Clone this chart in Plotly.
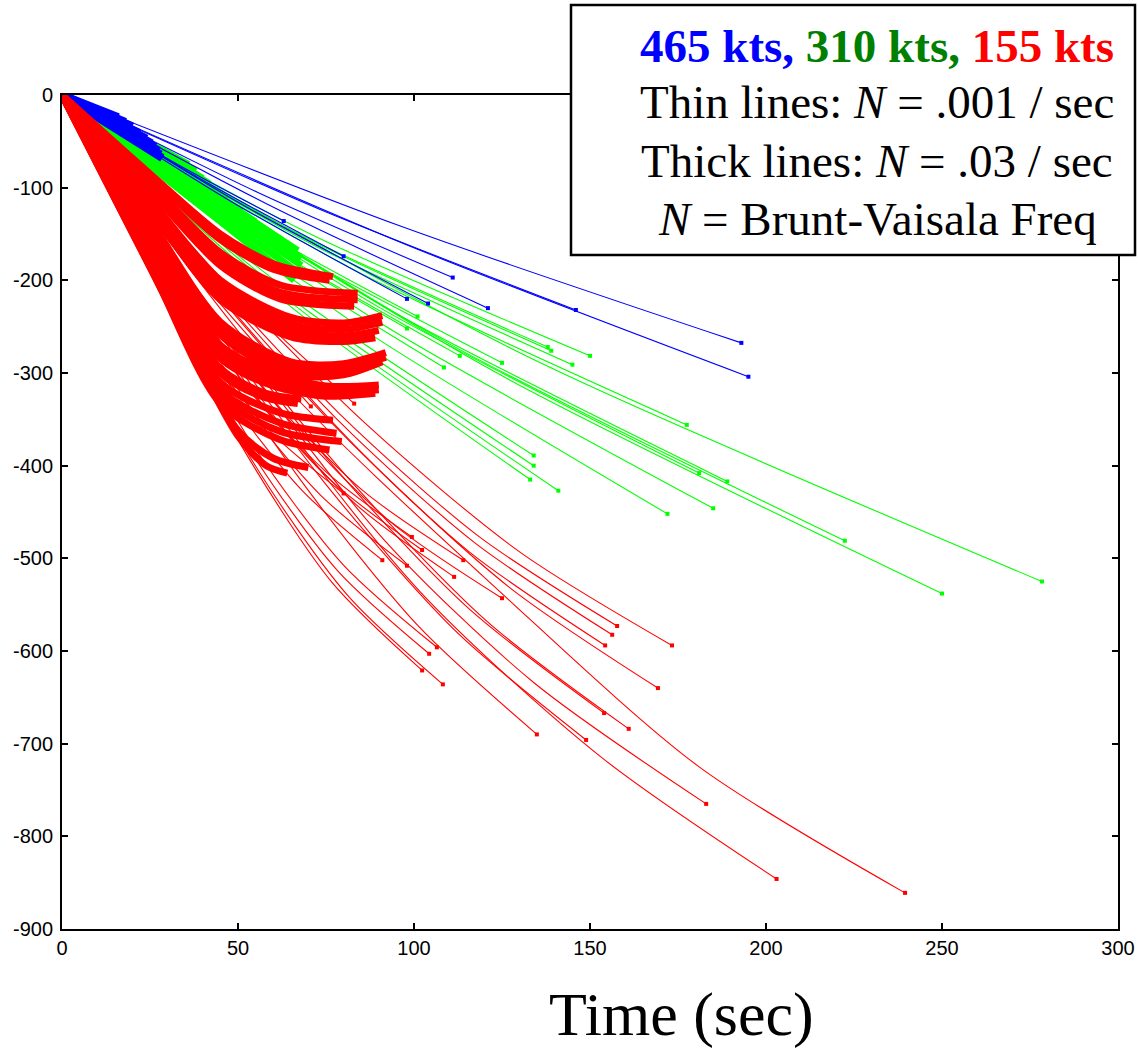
import plotly.graph_objects as go

# ---------------- data ----------------
X_TICKS = [0, 50, 100, 150, 200, 250, 300]
Y_TICKS = [0, -100, -200, -300, -400, -500, -600, -700, -800, -900]
Y_TICK_TEXT = ["0", "-100", "-200", "-300", "-400", "-500", "-600", "-700", "-800", "-900"]

# 465 kts, thin lines (N = .001 / sec)
BLUE_THIN_T = [[0, 96.5, 193], [0, 97.5, 195], [0, 73, 146], [0, 60.5, 121], [0, 55.5, 111],
               [0, 52, 104], [0, 49, 98], [0, 40, 80], [0, 31.5, 63]]
BLUE_THIN_Z = [[0, -142, -267.5], [0, -161, -304], [0, -123, -232], [0, -122, -230], [0, -105, -197],
               [0, -120, -225], [0, -117, -220], [0, -92, -174], [0, -72, -136]]
# 465 kts, thick lines (N = .03 / sec)
BLUE_THICK_T = [[0, 16], [0, 18], [0, 20], [0, 22], [0, 24], [0, 25.5], [0, 26.5], [0, 27.5], [0, 28],
                [0, 28.5]]
BLUE_THICK_Z = [[0, -24], [0, -29], [0, -34], [0, -41], [0, -47], [0, -52], [0, -56], [0, -60], [0, -64],
                [0, -68]]

# 310 kts, thin lines
GREEN_THIN_T = [[0, 24.5, 49, 98], [0, 25.25, 50.5, 101], [0, 27.1, 54.25, 108.5], [0, 28.25, 56.5, 113],
                [0, 31.25, 62.5, 125], [0, 33.5, 67, 134], [0, 33.5, 67, 134], [0, 33.25, 66.5, 133],
                [0, 34.5, 69, 138], [0, 34.75, 69.5, 139], [0, 35.25, 70.5, 141], [0, 36.25, 72.5, 145],
                [0, 37.5, 75, 150], [0, 43, 86, 172], [0, 44.4, 88.75, 177.5], [0, 45.25, 90.5, 181],
                [0, 46.25, 92.5, 185], [0, 47.25, 94.5, 189], [0, 55.6, 111.2, 222.4], [0, 62.5, 125, 250],
                [0, 69.6, 139.2, 278.4]]
GREEN_THIN_Z = [[0, -75, -142, -252], [0, -71, -134, -239], [0, -87, -165, -294], [0, -84, -158, -281.5],
                [0, -86, -163, -289], [0, -116, -219, -389], [0, -119, -225, -400], [0, -123, -233, -415],
                [0, -81, -153, -272], [0, -82, -155, -276], [0, -127, -240, -427], [0, -86, -164, -291],
                [0, -84, -158, -281.5], [0, -134, -254, -452], [0, -106, -200, -356], [0, -121, -230, -408],
                [0, -132, -251, -446], [0, -124, -235, -417], [0, -143, -271, -481], [0, -160, -303, -538],
                [0, -156, -295, -525]]
# 310 kts, thick lines
GREEN_THICK_T = [[0, 36], [0, 38], [0, 40], [0, 42], [0, 43], [0, 47], [0, 51], [0, 55], [0, 58], [0, 61],
                 [0, 64], [0, 67], [0, 68], [0, 68], [0, 67], [0, 66]]
GREEN_THICK_Z = [[0, -75], [0, -82], [0, -90], [0, -96], [0, -102], [0, -113], [0, -126], [0, -137],
                 [0, -146], [0, -154], [0, -161], [0, -168], [0, -176], [0, -184], [0, -192], [0, -200]]

# 155 kts, thin lines
RED_THIN_T = [[0, 20, 40, 60, 80], [0, 22.75, 45.5, 68.25, 91], [0, 24.5, 49, 73.5, 98],
              [0, 24.85, 49.7, 74.55, 99.4], [0, 25.6, 51.2, 76.7, 102.3], [0, 28.5, 57, 85.5, 114],
              [0, 27.85, 55.7, 83.55, 111.4], [0, 31.25, 62.5, 93.75, 125], [0, 26.6, 53.25, 79.9, 106.5],
              [0, 26.1, 52.2, 78.2, 104.3], [0, 25.6, 51.2, 76.7, 102.3], [0, 27.05, 54.1, 81.15, 108.2],
              [0, 33.7, 67.5, 101.2, 134.9], [0, 37.2, 74.5, 111.7, 148.9], [0, 38.5, 77, 115.5, 154],
              [0, 40.25, 80.5, 120.75, 161], [0, 39.4, 78.85, 118.3, 157.7], [0, 39.1, 78.15, 117.2, 156.3],
              [0, 38.6, 77.15, 115.7, 154.3], [0, 43.3, 86.65, 130, 173.3], [0, 42.3, 84.65, 127, 169.3],
              [0, 45.75, 91.5, 134, 183], [0, 50.75, 101.5, 153, 203], [0, 60, 127, 181, 239.5],
              [0, 35, 70.7], [0, 41.5, 83]]
RED_THIN_Z = [[0, -142, -271, -366, -430], [0, -166, -316, -427, -502], [0, -168, -320, -432, -508],
              [0, -157, -301, -405, -477], [0, -162, -309, -417, -491], [0, -166, -316, -427, -502],
              [0, -172, -328, -442, -520], [0, -179, -342, -462, -543], [0, -192, -372, -507, -596],
              [0, -192, -376, -513, -603], [0, -192, -380, -526, -621], [0, -200, -395, -540, -636],
              [0, -221, -414, -573, -690], [0, -223, -418, -578, -696], [0, -213, -400, -554, -667],
              [0, -219, -410, -568, -684], [0, -183, -344, -476, -573], [0, -186, -350, -483, -582.5],
              [0, -190, -356, -493, -594], [0, -190, -356, -493, -594], [0, -205, -384, -531, -640],
              [0, -256, -480, -634, -765], [0, -290, -535, -714, -846], [0, -300, -545, -725, -861],
              [0, -180, -336], [0, -185, -333]]
# 155 kts, thick lines
RED_THICK_T = [[0, 25, 45, 60, 77], [0, 25, 45, 60, 76],
               [0, 25, 45, 62, 84], [0, 25, 45, 62, 84], [0, 25, 45, 62, 83],
               [0, 25, 45, 65, 80, 91], [0, 25, 45, 65, 80, 91], [0, 25, 45, 65, 80, 90], [0, 25, 45, 65, 80, 89],
               [0, 25, 45, 65, 80, 92], [0, 25, 45, 65, 80, 92], [0, 25, 45, 65, 80, 91],
               [0, 25, 45, 60, 75, 90], [0, 25, 45, 60, 75, 90], [0, 25, 45, 60, 75, 89],
               [0, 25, 45, 58, 68], [0, 25, 45, 58, 67],
               [0, 25, 45, 62, 77], [0, 25, 45, 62, 78], [0, 25, 45, 62, 79.5], [0, 25, 45, 62, 76],
               [0, 25, 50, 60, 70], [0, 25, 50, 58, 64]]
RED_THICK_Z = [[0, -85, -150, -182, -196], [0, -88, -156, -188, -200],
               [0, -95, -170, -205, -214], [0, -99, -177, -213, -221], [0, -103, -184, -220, -228],
               [0, -112, -200, -240, -246, -238], [0, -116, -207, -247, -253, -245],
               [0, -120, -214, -254, -260, -254], [0, -124, -221, -261, -266, -262],
               [0, -135, -245, -288, -290, -278], [0, -139, -252, -295, -296, -283], [0, -143, -259, -302, -302, -288],
               [0, -150, -270, -300, -314, -313], [0, -154, -277, -307, -320, -318], [0, -158, -284, -314, -325, -322],
               [0, -165, -295, -322, -328], [0, -168, -300, -327, -333],
               [0, -172, -310, -343, -351], [0, -176, -318, -354, -365], [0, -180, -325, -363, -374],
               [0, -184, -333, -372, -383],
               [0, -185, -362, -392, -402], [0, -186, -368, -400, -408]]

BLUE = "#0000ff"
GREEN = "#00ff00"
RED = "#ff0000"

fig = go.Figure()


def add_group(ts, zs, color, width, end_markers):
    for t, z in zip(ts, zs):
        fig.add_trace(go.Scatter(x=t, y=z, mode="lines",
                                 line=dict(color=color, width=width, shape="spline", smoothing=0.8),
                                 hoverinfo="skip", showlegend=False))
    if end_markers:
        fig.add_trace(go.Scatter(x=[t[-1] for t in ts], y=[z[-1] for z in zs], mode="markers",
                                 marker=dict(color=color, size=4, symbol="square"),
                                 hoverinfo="skip", showlegend=False))


add_group(GREEN_THICK_T, GREEN_THICK_Z, GREEN, 7, False)
add_group(GREEN_THIN_T, GREEN_THIN_Z, GREEN, 1.1, True)
add_group(BLUE_THIN_T, BLUE_THIN_Z, BLUE, 1.1, True)
add_group(BLUE_THICK_T, BLUE_THICK_Z, BLUE, 8, False)
add_group(RED_THIN_T, RED_THIN_Z, RED, 1.1, True)
add_group(RED_THICK_T, RED_THICK_Z, RED, 7, False)

L, R, T, B = 62, 20, 95, 120
W, H = 1138, 1049
PW, PH = W - L - R, H - T - B


def px(x):
    return (x - L) / PW


def py(y):
    return (H - B - y) / PH


axis_common = dict(showline=True, linecolor="black", linewidth=2, mirror="ticks", ticks="inside",
                   ticklen=6, tickwidth=1.5, tickcolor="black", showgrid=False, zeroline=False,
                   tickfont=dict(family="Liberation Sans", size=20, color="black"))

fig.update_layout(
    width=W, height=H,
    margin=dict(l=L, r=R, t=T, b=B, autoexpand=False),
    plot_bgcolor="white", paper_bgcolor="white",
    showlegend=False, hovermode=False,
    xaxis=dict(range=[0, 300], tickvals=X_TICKS, ticklabelstandoff=0, **axis_common),
    yaxis=dict(range=[-900, 0], tickvals=Y_TICKS, ticktext=Y_TICK_TEXT, ticklabelstandoff=3, **axis_common),
)

# legend box
fig.add_shape(type="rect", xref="paper", yref="paper",
              x0=px(571), x1=px(1135), y0=py(255), y1=py(5),
              line=dict(color="black", width=2.5), fillcolor="white", layer="above")

serif = "Liberation Serif"
lines = [
    ("<b><span style='color:#0000ff'>465 kts,</span> <span style='color:#008000'>310 kts,</span> "
     "<span style='color:#ff0000'>155 kts</span></b>", 46),
    ("Thin lines: <i>N</i> = .001 / sec", 102),
    ("Thick lines: <i>N</i> = .03 / sec", 161),
    ("<i>N</i> = Brunt-Vaisala Freq", 219),
]
for txt, yc in lines:
    fig.add_annotation(text=txt, xref="paper", yref="paper", x=px(877), y=py(yc),
                       xanchor="center", yanchor="middle", showarrow=False,
                       font=dict(family=serif, size=47, color="black"))

fig.add_annotation(text="Time (sec)", xref="paper", yref="paper", x=px(681), y=py(1014),
                   xanchor="center", yanchor="middle", showarrow=False,
                   font=dict(family=serif, size=62, color="black"))

fig.write_html("out.html", config={"displayModeBar": False},
               post_script="document.body.style.margin='0';document.body.style.overflow='hidden';")
